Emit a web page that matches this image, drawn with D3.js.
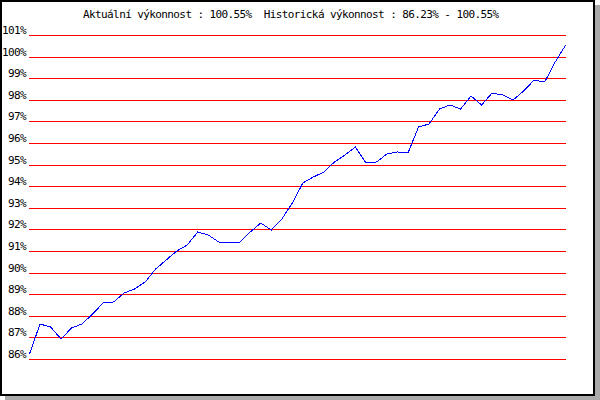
<!DOCTYPE html>
<html>
<head>
<meta charset="utf-8">
<script src="https://cdn.jsdelivr.net/npm/d3@7"></script>
<style>
  html, body { margin: 0; padding: 0; background: #fff; }
  svg { display: block; }
  text { font-family: "DejaVu Sans Mono", "Liberation Mono", monospace; font-size: 11px; letter-spacing: -0.6px; fill: #000; }
</style>
</head>
<body>
<script>
// ---- data ----
const titleText = "Aktuální výkonnost : 100.55%  Historická výkonnost : 86.23% - 100.55%";
const yTicks = [86, 87, 88, 89, 90, 91, 92, 93, 94, 95, 96, 97, 98, 99, 100, 101];
const weeks = [0,1,2,3,4,5,6,7,8,9,10,11,12,13,14,15,16,17,18,19,20,21,22,23,24,25,
               26,27,28,29,30,31,32,33,34,35,36,37,38,39,40,41,42,43,44,45,46,47,48,49,50,51];
const performance = [86.23, 87.62, 87.50, 86.91, 87.42, 87.62, 88.08, 88.58, 88.65, 89.04,
                     89.24, 89.58, 90.15, 90.58, 90.98, 91.30, 91.90, 91.74, 91.40, 91.40,
                     91.40, 91.87, 92.28, 91.97, 92.47, 93.22, 94.13, 94.44, 94.64, 95.10,
                     95.46, 95.83, 95.06, 95.12, 95.48, 95.57, 95.52, 96.75, 96.87, 97.56,
                     97.74, 97.56, 98.16, 97.77, 98.31, 98.23, 97.97, 98.39, 98.92, 98.81,
                     99.74, 100.55];

// ---- layout ----
const W = 600, H = 400;
const svg = d3.select("body").append("svg").attr("width", W).attr("height", H);

// frame with shadow
svg.append("rect").attr("x", 5).attr("y", 5).attr("width", 595).attr("height", 395).attr("fill", "#aaaaaa");
svg.append("rect").attr("x", 0).attr("y", 0).attr("width", 595).attr("height", 396).attr("fill", "#000");
svg.append("rect").attr("x", 2).attr("y", 2).attr("width", 591).attr("height", 392).attr("fill", "#fff");

const left = 29, right = 566;
const x = d3.scaleLinear().domain([0, weeks.length - 1]).range([left + 0.5, right - 0.3]);
const y = d3.scaleLinear().domain([86, 101]).rangeRound([359, 35]);

// y axis with gridlines
const axis = d3.axisLeft(y)
  .tickValues(yTicks)
  .tickSize(-(right - left))
  .tickPadding(3)
  .tickFormat(d => d + "%");

const g = svg.append("g").attr("transform", `translate(${left},0)`).call(axis);
g.select(".domain").remove();
g.selectAll(".tick line").attr("stroke", "#ff0000").attr("stroke-width", 1).attr("shape-rendering", "crispEdges");
g.selectAll(".tick text")
  .attr("dy", -2)
  .attr("fill", "#000")
  .style("font-family", "\"DejaVu Sans Mono\", monospace")
  .style("font-size", "11px");

// line
const line = d3.line().x((d, i) => x(weeks[i])).y(d => y(d));
svg.append("path")
  .datum(performance)
  .attr("d", line)
  .attr("fill", "none")
  .attr("stroke", "#0000ff")
  .attr("stroke-width", 1)
  .attr("shape-rendering", "crispEdges");

// title
svg.append("text")
  .attr("x", 83)
  .attr("y", 17.5)
  .attr("xml:space", "preserve")
  .style("white-space", "pre")
  .text(titleText);
</script>
</body>
</html>
